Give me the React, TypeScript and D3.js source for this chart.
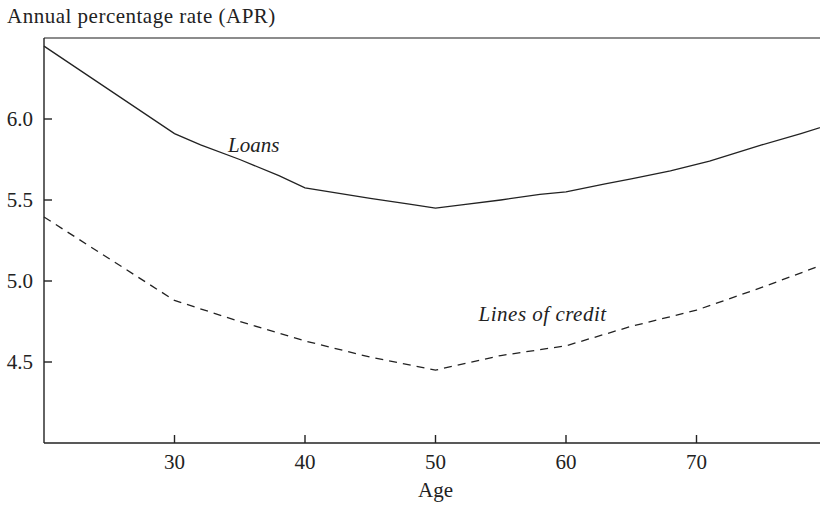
import React from "react";
import * as d3 from "d3";

const ages = [20, 30, 32, 35, 38, 40, 45, 48, 50, 52, 55, 58, 60, 63, 65, 68, 70, 71, 75, 78, 80];
const loans = [6.45, 5.91, 5.84, 5.75, 5.65, 5.575, 5.51, 5.475, 5.45, 5.47, 5.5, 5.535, 5.55, 5.6, 5.63, 5.68, 5.72, 5.74, 5.84, 5.91, 5.96];

const creditAges = [20, 30, 35, 40, 45, 50, 55, 60, 65, 70, 75, 80];
const credit = [5.395, 4.88, 4.75, 4.63, 4.53, 4.45, 4.54, 4.6, 4.72, 4.82, 4.96, 5.11];

const xTicks = [30, 40, 50, 60, 70];
const yTicks = [4.5, 5.0, 5.5, 6.0];

const W = 820;
const H = 508;
const FONT = '"Times New Roman", "Liberation Serif", Tinos, Times, "DejaVu Serif", serif';

export default function App() {
  const x = d3.scaleLinear().domain([20, 80]).range([44, 827]);
  const y = d3.scaleLinear().domain([4.0, 6.5]).range([443, 38]);

  const line = d3
    .line<[number, number]>()
    .x((d) => x(d[0]))
    .y((d) => y(d[1]));

  const loanPath = line(ages.map((a, i) => [a, loans[i]] as [number, number])) || "";
  const creditPath = line(creditAges.map((a, i) => [a, credit[i]] as [number, number])) || "";

  const stroke = "#222";
  const ts: React.CSSProperties = { fontFamily: FONT };
  const fs = 21;

  return (
    <svg
      width={W}
      height={H}
      style={{ position: "absolute", left: 0, top: 0, background: "#fff" }}
    >
      <rect x={0} y={0} width={W} height={H} fill="#fff" />
      <text x={7} y={23} fontSize={fs} fill="#222" style={{ ...ts, letterSpacing: "0.5px" }}>
        Annual percentage rate (APR)
      </text>
      <line x1={x(20)} x2={W} y1={y(6.5)} y2={y(6.5)} stroke="#666" strokeWidth={1.6} />
      <line x1={x(20)} x2={x(20)} y1={y(6.5)} y2={y(4.0)} stroke={stroke} strokeWidth={1.4} />
      <line x1={x(20)} x2={W} y1={y(4.0)} y2={y(4.0)} stroke={stroke} strokeWidth={1.4} />
      {yTicks.map((t) => (
        <g key={"y" + t}>
          <line x1={x(20)} x2={x(20) + 8} y1={y(t)} y2={y(t)} stroke={stroke} strokeWidth={1.4} />
          <text x={33} y={y(t) + 7} fontSize={fs} textAnchor="end" fill="#222" style={ts}>
            {t.toFixed(1)}
          </text>
        </g>
      ))}
      {xTicks.map((t) => (
        <g key={"x" + t}>
          <line x1={x(t)} x2={x(t)} y1={y(4.0)} y2={y(4.0) - 8} stroke={stroke} strokeWidth={1.4} />
          <text x={x(t)} y={469} fontSize={fs} textAnchor="middle" fill="#222" style={ts}>
            {t}
          </text>
        </g>
      ))}
      <text x={x(50)} y={497} fontSize={fs} textAnchor="middle" fill="#222" style={ts}>
        Age
      </text>
      <path d={loanPath} fill="none" stroke={stroke} strokeWidth={1.3} />
      <path d={creditPath} fill="none" stroke={stroke} strokeWidth={1.3} strokeDasharray="8,6" />
      <text x={x(34.1)} y={152} fontSize={fs} fontStyle="italic" fill="#222" style={ts}>
        Loans
      </text>
      <text x={x(53.3)} y={321} fontSize={fs} fontStyle="italic" fill="#222" style={{ ...ts, letterSpacing: "0.5px" }}>
        Lines of credit
      </text>
    </svg>
  );
}
